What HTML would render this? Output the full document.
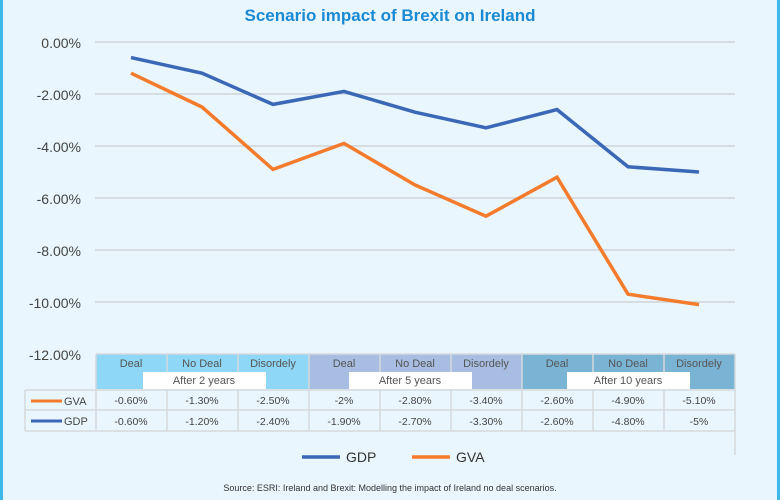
<!DOCTYPE html>
<html><head><meta charset="utf-8"><style>
body{margin:0;width:780px;height:500px;overflow:hidden;background:#eaf6fd;font-family:"Liberation Sans",sans-serif}
</style></head><body>
<svg width="780" height="500" xmlns="http://www.w3.org/2000/svg" font-family="Liberation Sans, sans-serif" style="display:block">
<rect width="780" height="500" fill="#eaf6fd"/>
<rect x="0" y="0" width="3" height="500" fill="#3cb8ec"/>
<rect x="777" y="0" width="3" height="500" fill="#3cb8ec"/>
<text x="390" y="21" text-anchor="middle" font-size="17" font-weight="bold" fill="#1a8ad4">Scenario impact of Brexit on Ireland</text>
<g stroke="#cfd4d8" stroke-width="1.5">
<line x1="95" y1="42" x2="735" y2="42"/><line x1="95" y1="94" x2="735" y2="94"/><line x1="95" y1="146" x2="735" y2="146"/><line x1="95" y1="198" x2="735" y2="198"/><line x1="95" y1="250" x2="735" y2="250"/><line x1="95" y1="302" x2="735" y2="302"/>
</g>
<g font-size="14" fill="#444" text-anchor="end">
<text x="81" y="48">0.00%</text><text x="81" y="100">-2.00%</text><text x="81" y="152">-4.00%</text><text x="81" y="204">-6.00%</text><text x="81" y="256">-8.00%</text><text x="81" y="308">-10.00%</text><text x="81" y="360">-12.00%</text>
</g>
<polyline fill="none" stroke="#3a68b6" stroke-width="3.5" points="131,57.6 202,73.2 273,104.4 344,91.4 415,112.2 486,127.8 557,109.6 628,166.8 699,172"/>
<polyline fill="none" stroke="#f47b2c" stroke-width="3.5" points="131,73.2 202,107 273,169.4 344,143.4 415,185 486,216.2 557,177.2 628,294.2 699,304.6"/>
<rect x="96" y="354" width="213" height="35" fill="#8ed7f6"/>
<rect x="309" y="354" width="213" height="35" fill="#a7bee2"/>
<rect x="522" y="354" width="213" height="35" fill="#7ab4d5"/>
<rect x="143" y="372" width="123" height="17" fill="#fff"/>
<rect x="349" y="372" width="123" height="17" fill="#fff"/>
<rect x="567" y="372" width="123" height="17" fill="#fff"/>
<g stroke="#d4d8dc" stroke-width="1.5">
<line x1="96" y1="354" x2="735" y2="354"/>
<line x1="167" y1="354" x2="167" y2="372"/><line x1="238" y1="354" x2="238" y2="372"/>
<line x1="380" y1="354" x2="380" y2="372"/><line x1="451" y1="354" x2="451" y2="372"/>
<line x1="593" y1="354" x2="593" y2="372"/><line x1="664" y1="354" x2="664" y2="372"/>
<line x1="96" y1="354" x2="96" y2="431"/><line x1="309" y1="354" x2="309" y2="431"/><line x1="522" y1="354" x2="522" y2="431"/><line x1="735" y1="354" x2="735" y2="455"/>
<line x1="25" y1="390" x2="735" y2="390"/><line x1="25" y1="410" x2="735" y2="410"/><line x1="25" y1="431" x2="735" y2="431"/>
<line x1="25" y1="390" x2="25" y2="431"/>
<line x1="167" y1="390" x2="167" y2="431"/><line x1="238" y1="390" x2="238" y2="431"/><line x1="380" y1="390" x2="380" y2="431"/><line x1="451" y1="390" x2="451" y2="431"/><line x1="593" y1="390" x2="593" y2="431"/><line x1="664" y1="390" x2="664" y2="431"/>
</g>
<g font-size="11" fill="#555" text-anchor="middle">
<text x="131" y="367">Deal</text><text x="202" y="367">No Deal</text><text x="273" y="367">Disordely</text>
<text x="344" y="367">Deal</text><text x="415" y="367">No Deal</text><text x="486" y="367">Disordely</text>
<text x="557" y="367">Deal</text><text x="628" y="367">No Deal</text><text x="699" y="367">Disordely</text>
<text x="204" y="384">After 2 years</text><text x="410" y="384">After 5 years</text><text x="628" y="384">After 10 years</text>
</g>
<g font-size="10.5" fill="#444" text-anchor="middle">
<text x="131" y="404">-0.60%</text><text x="202" y="404">-1.30%</text><text x="273" y="404">-2.50%</text><text x="344" y="404">-2%</text><text x="415" y="404">-2.80%</text><text x="486" y="404">-3.40%</text><text x="557" y="404">-2.60%</text><text x="628" y="404">-4.90%</text><text x="699" y="404">-5.10%</text>
<text x="131" y="425">-0.60%</text><text x="202" y="425">-1.20%</text><text x="273" y="425">-2.40%</text><text x="344" y="425">-1.90%</text><text x="415" y="425">-2.70%</text><text x="486" y="425">-3.30%</text><text x="557" y="425">-2.60%</text><text x="628" y="425">-4.80%</text><text x="699" y="425">-5%</text>
</g>
<line x1="31" y1="401" x2="62" y2="401" stroke="#f47b2c" stroke-width="3"/>
<line x1="31" y1="421" x2="62" y2="421" stroke="#3a68b6" stroke-width="3"/>
<text x="64" y="405" font-size="11" fill="#444">GVA</text>
<text x="64" y="425" font-size="11" fill="#444">GDP</text>
<line x1="302" y1="457" x2="340" y2="457" stroke="#3a68b6" stroke-width="3.5"/>
<text x="346" y="462" font-size="14" fill="#333">GDP</text>
<line x1="412" y1="457" x2="450" y2="457" stroke="#f47b2c" stroke-width="3.5"/>
<text x="456" y="462" font-size="14" fill="#333">GVA</text>
<text x="390" y="491" text-anchor="middle" font-size="9" fill="#333">Source: ESRI: Ireland and Brexit: Modelling the impact of Ireland no deal scenarios.</text>
</svg>
</body></html>
